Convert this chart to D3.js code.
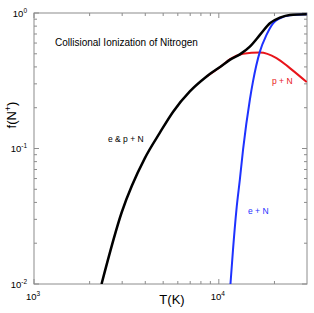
<!DOCTYPE html>
<html>
<head>
<meta charset="utf-8">
<script src="https://cdn.jsdelivr.net/npm/d3@7"></script>
<style>
  body { margin: 0; background: #fff; }
  text { font-family: "Liberation Sans", Arial, sans-serif; }
</style>
</head>
<body>
<script>
// temperatures (K) and ionization fractions
const tempBoth = [2320, 2980, 3980, 4800, 5660, 6970, 8590, 10550, 11460, 13000, 14720, 16680, 18890, 21390, 24230, 29900]
const fracBoth = [0.01, 0.0337, 0.085, 0.131, 0.187, 0.264, 0.34, 0.415, 0.451, 0.495, 0.565, 0.689, 0.84, 0.923, 0.967, 0.978]

const tempProton = [8590, 10550, 11460, 13520, 16680, 20510, 24230, 29900]
const fracProton = [0.34, 0.415, 0.455, 0.5, 0.511, 0.465, 0.392, 0.309]

const tempElectron = [11560, 11940, 12460, 13000, 13530, 14720, 15310, 16680, 18110, 19660, 21390, 24230, 29900]
const fracElectron = [0.01, 0.0181, 0.0356, 0.0592, 0.0984, 0.229, 0.313, 0.519, 0.689, 0.84, 0.914, 0.962, 0.978]

const xMajor = [1e3, 1e4]
const yMajor = [1e-2, 1e-1, 1]

const width = 314, height = 313
const margin = {top: 13, right: 7, bottom: 29, left: 34}
const iw = width - margin.left - margin.right
const ih = height - margin.top - margin.bottom

const svg = d3.select('body').append('svg')
    .attr('width', width)
    .attr('height', height)

const g = svg.append('g').attr('transform', `translate(${margin.left},${margin.top})`)

const x = d3.scaleLog().domain([1000, 30000]).range([0, iw])
const y = d3.scaleLog().domain([0.01, 1]).range([ih, 0])

// minor ticks
const xMinor = []
for (let d = 1e3; d < 3e4; d *= 10) for (let k = 2; k <= 9; k++) if (d * k < 3e4) xMinor.push(d * k)
const yMinor = []
for (let d = 1e-2; d < 1; d *= 10) for (let k = 2; k <= 9; k++) yMinor.push(d * k)

const axisColor = '#8c8c8c'

g.append('rect')
    .attr('width', iw).attr('height', ih)
    .attr('fill', 'none').attr('stroke', axisColor).attr('stroke-width', 1)

const tick = (list, len, horiz) => {
  list.forEach(v => {
    if (horiz) {
      const px = x(v)
      g.append('line').attr('x1', px).attr('x2', px).attr('y1', ih).attr('y2', ih - len).attr('stroke', axisColor)
      g.append('line').attr('x1', px).attr('x2', px).attr('y1', 0).attr('y2', len).attr('stroke', axisColor)
    } else {
      const py = y(v)
      g.append('line').attr('x1', 0).attr('x2', len).attr('y1', py).attr('y2', py).attr('stroke', axisColor)
      g.append('line').attr('x1', iw).attr('x2', iw - len).attr('y1', py).attr('y2', py).attr('stroke', axisColor)
    }
  })
}
tick(xMinor, 3, true)
tick(xMajor, 5, true)
tick(yMinor, 3, false)
tick(yMajor, 5, false)

// tick labels
xMajor.forEach(v => {
  const t = g.append('text')
      .attr('x', x(v) - 1).attr('y', ih + 16)
      .attr('text-anchor', 'middle')
      .attr('font-size', 9.5)
  t.append('tspan').text('10')
  t.append('tspan').attr('font-size', 6.5).attr('dy', -4).text(Math.round(Math.log10(v)))
})
yMajor.forEach(v => {
  const t = g.append('text')
      .attr('x', -7).attr('y', y(v) + 3.5)
      .attr('text-anchor', 'end')
      .attr('font-size', 9.5)
  t.append('tspan').text('10')
  t.append('tspan').attr('font-size', 6.5).attr('dy', -4).text(Math.round(Math.log10(v)))
})

// axis titles
svg.append('text')
    .attr('x', 172).attr('y', 304)
    .attr('text-anchor', 'middle')
    .attr('font-size', 13)
    .text('T(K)')

const yt = svg.append('text')
    .attr('transform', 'translate(16,115) rotate(-90)')
    .attr('text-anchor', 'middle')
    .attr('font-size', 13)
yt.append('tspan').text('f(N')
yt.append('tspan').attr('font-size', 9).attr('dy', -5).text('+')
yt.append('tspan').attr('dy', 5).text(')')

// curves
g.append('clipPath').attr('id', 'clip')
  .append('rect').attr('width', iw).attr('height', ih)

const line = d3.line()
    .x(d => x(d[0]))
    .y(d => y(d[1]))
    .curve(d3.curveMonotoneX)

const zip = (a, b) => a.map((v, i) => [v, b[i]])

const curves = g.append('g').attr('clip-path', 'url(#clip)')
curves.append('path')
    .attr('d', line(zip(tempProton, fracProton)))
    .attr('fill', 'none').attr('stroke', '#e8141a').attr('stroke-width', 2)
curves.append('path')
    .attr('d', line(zip(tempElectron, fracElectron)))
    .attr('fill', 'none').attr('stroke', '#1e32ff').attr('stroke-width', 2)
curves.append('path')
    .attr('d', line(zip(tempBoth, fracBoth)))
    .attr('fill', 'none').attr('stroke', '#000').attr('stroke-width', 2.5)

// annotations
svg.append('text')
    .attr('x', 55).attr('y', 46)
    .attr('font-size', 10)
    .text('Collisional Ionization of Nitrogen')

svg.append('text')
    .attr('x', 108).attr('y', 142)
    .attr('font-size', 8.5)
    .text('e & p + N')

svg.append('text')
    .attr('x', 272).attr('y', 84)
    .attr('font-size', 8.5)
    .attr('fill', '#e8141a')
    .text('p + N')

svg.append('text')
    .attr('x', 248).attr('y', 214)
    .attr('font-size', 8.5)
    .attr('fill', '#1e32ff')
    .text('e + N')
</script>
</body>
</html>
